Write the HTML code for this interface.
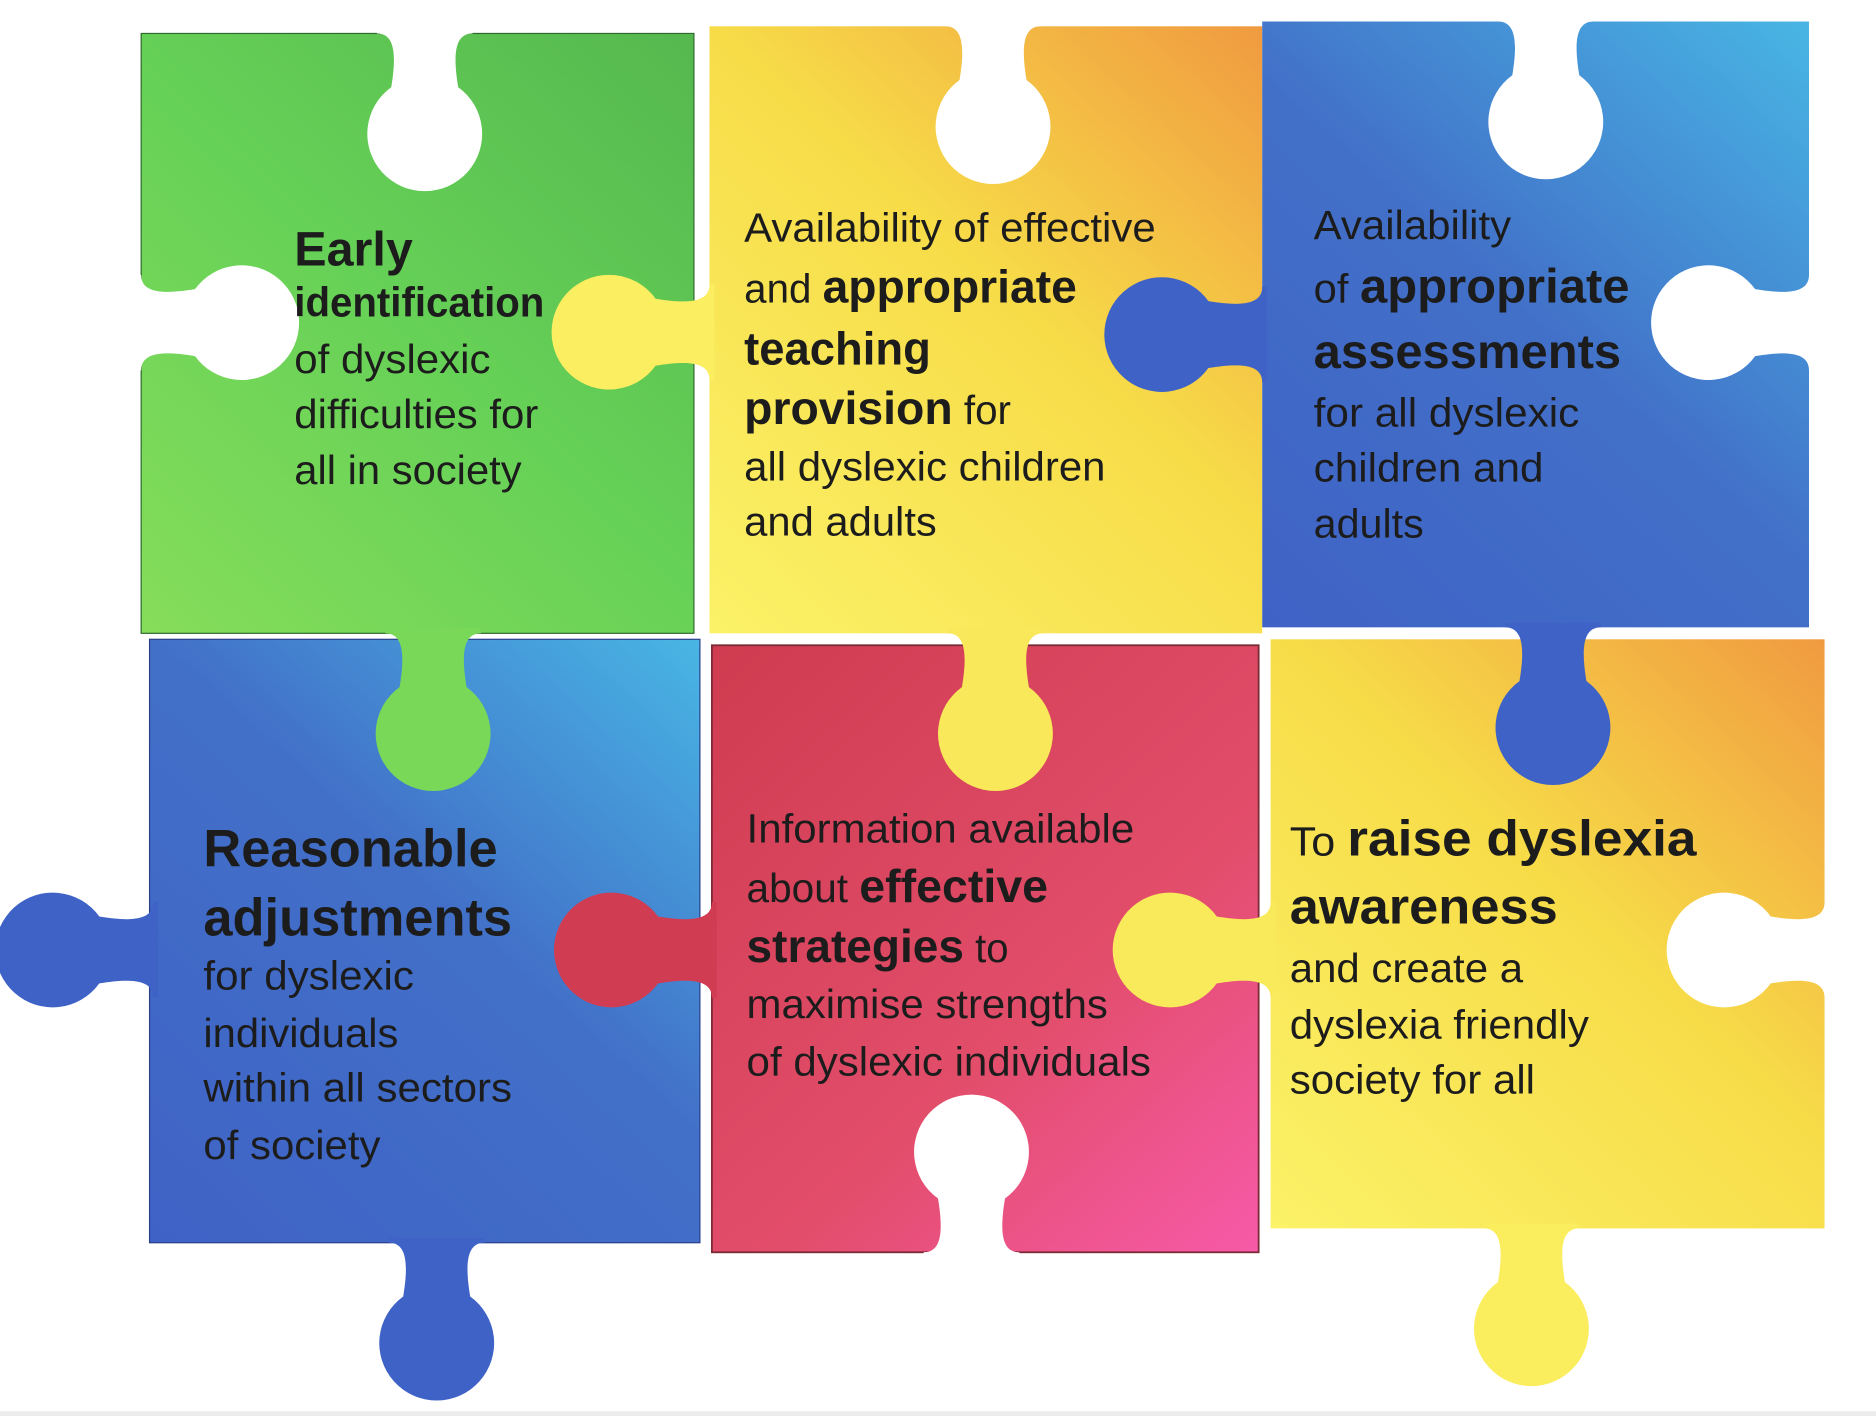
<!DOCTYPE html>
<html><head><meta charset="utf-8">
<style>
html,body{margin:0;padding:0;background:#fff;}
svg{display:block;}
text{font-family:"Liberation Sans",Arial,sans-serif;fill:#1c1c1c;}
.b{font-weight:bold;}
</style></head>
<body>
<svg width="1876" height="1416" viewBox="0 0 1568 1185" preserveAspectRatio="none" xmlns="http://www.w3.org/2000/svg" xmlns:xlink="http://www.w3.org/1999/xlink">
<defs>
<linearGradient id="gG" gradientUnits="userSpaceOnUse" x1="118" y1="530" x2="580" y2="28">
<stop offset="0" stop-color="#86dd5a"/><stop offset="0.5" stop-color="#66d157"/><stop offset="1" stop-color="#55b84f"/></linearGradient>
<linearGradient id="gY1" gradientUnits="userSpaceOnUse" x1="593" y1="530" x2="1055" y2="22">
<stop offset="0" stop-color="#fbf268"/><stop offset="0.55" stop-color="#f7dc48"/><stop offset="1" stop-color="#f09a40"/></linearGradient>
<linearGradient id="gB1" gradientUnits="userSpaceOnUse" x1="1055" y1="525" x2="1512" y2="18">
<stop offset="0" stop-color="#3f62c6"/><stop offset="0.5" stop-color="#4270c8"/><stop offset="1" stop-color="#48b6e4"/></linearGradient>
<linearGradient id="gB2" gradientUnits="userSpaceOnUse" x1="125" y1="1040" x2="585" y2="535">
<stop offset="0" stop-color="#3f62c6"/><stop offset="0.55" stop-color="#4270c8"/><stop offset="1" stop-color="#48b6e4"/></linearGradient>
<linearGradient id="gR" gradientUnits="userSpaceOnUse" x1="595" y1="540" x2="1052" y2="1048">
<stop offset="0" stop-color="#cf3c50"/><stop offset="0.6" stop-color="#e24d6a"/><stop offset="1" stop-color="#f75aa8"/></linearGradient>
<linearGradient id="gY2" gradientUnits="userSpaceOnUse" x1="1062" y1="1028" x2="1525" y2="535">
<stop offset="0" stop-color="#fbf268"/><stop offset="0.55" stop-color="#f7dc48"/><stop offset="1" stop-color="#f09a40"/></linearGradient>
<path id="k" d="M-40,-4 L-40,0 C-26,0 -23,15 -28,45 A48 48 0 1 0 28,45 C23,15 26,0 40,0 L40,-4 Z"/>
<path id="h" d="M-40,-30 L-40,0 C-26,0 -23,15 -28,45 A48 48 0 1 0 28,45 C23,15 26,0 40,0 L40,-30 Z"/>
</defs>

<rect x="118" y="28" width="462" height="502" fill="url(#gG)" stroke="#2d6a2d" stroke-width="1"/>
<rect x="593" y="22" width="462" height="508" fill="url(#gY1)"/>
<rect x="1055" y="18" width="457" height="507" fill="url(#gB1)"/>
<rect x="125" y="535" width="460" height="505" fill="url(#gB2)" stroke="#2a3f8a" stroke-width="1"/>
<rect x="595" y="540" width="457" height="508" fill="url(#gR)" stroke="#7a2a35" stroke-width="1.5"/>
<rect x="1062" y="535" width="463" height="493" fill="url(#gY2)"/>

<use xlink:href="#k" transform="translate(362,530)" fill="#7ad858"/>
<use xlink:href="#k" transform="translate(832,530)" fill="#f9e85a"/>
<use xlink:href="#k" transform="translate(593,278) rotate(90)" fill="#fbee60"/>
<use xlink:href="#k" transform="translate(1055,280) rotate(90)" fill="#3f62c6"/>
<use xlink:href="#k" transform="translate(1298,525)" fill="#3f62c6"/>
<use xlink:href="#k" transform="translate(128,795) rotate(90)" fill="#3f62c6"/>
<use xlink:href="#k" transform="translate(365,1040)" fill="#3f62c6"/>
<use xlink:href="#k" transform="translate(595,795) rotate(90)" fill="#d03c52"/>
<use xlink:href="#k" transform="translate(1062,795) rotate(90)" fill="#f9ea5c"/>
<use xlink:href="#k" transform="translate(1280,1028)" fill="#faed5e"/>

<g fill="#fff">
<use xlink:href="#h" transform="translate(355,28)"/>
<use xlink:href="#h" transform="translate(830,22)"/>
<use xlink:href="#h" transform="translate(1292,18)"/>
<use xlink:href="#h" transform="translate(118,270) rotate(-90)"/>
<use xlink:href="#h" transform="translate(1512,270) rotate(90)"/>
<use xlink:href="#h" transform="translate(1525,795) rotate(90)"/>
<use xlink:href="#h" transform="translate(812,1048) rotate(180)"/>
</g>
<rect x="0" y="1181" width="1568" height="4" fill="#ececec"/>

<text x="246" y="222" class="b" font-size="40" textLength="99" lengthAdjust="spacingAndGlyphs">Early</text>
<text x="246" y="265" class="b" font-size="35" textLength="209" lengthAdjust="spacingAndGlyphs">identification</text>
<text x="246" y="312" font-size="34" textLength="164" lengthAdjust="spacingAndGlyphs">of dyslexic</text>
<text x="246" y="358" font-size="34" textLength="204" lengthAdjust="spacingAndGlyphs">difficulties for</text>
<text x="246" y="405" font-size="34" textLength="190" lengthAdjust="spacingAndGlyphs">all in society</text>

<text x="622" y="202" font-size="34" textLength="344" lengthAdjust="spacingAndGlyphs">Availability of effective</text>
<text x="622" y="253" font-size="34" textLength="278" lengthAdjust="spacingAndGlyphs">and <tspan class="b" font-size="39">appropriate</tspan></text>
<text x="622" y="305" class="b" font-size="39" textLength="156" lengthAdjust="spacingAndGlyphs">teaching</text>
<text x="622" y="355" font-size="34" textLength="223" lengthAdjust="spacingAndGlyphs"><tspan class="b" font-size="39">provision</tspan> for</text>
<text x="622" y="402" font-size="34" textLength="302" lengthAdjust="spacingAndGlyphs">all dyslexic children</text>
<text x="622" y="448" font-size="34" textLength="161" lengthAdjust="spacingAndGlyphs">and adults</text>

<text x="1098" y="200" font-size="34" textLength="165" lengthAdjust="spacingAndGlyphs">Availability</text>
<text x="1098" y="253" font-size="34" textLength="264" lengthAdjust="spacingAndGlyphs">of <tspan class="b" font-size="40">appropriate</tspan></text>
<text x="1098" y="308" class="b" font-size="40" textLength="257" lengthAdjust="spacingAndGlyphs">assessments</text>
<text x="1098" y="357" font-size="34" textLength="222" lengthAdjust="spacingAndGlyphs">for all dyslexic</text>
<text x="1098" y="403" font-size="34" textLength="192" lengthAdjust="spacingAndGlyphs">children and</text>
<text x="1098" y="450" font-size="34" textLength="92" lengthAdjust="spacingAndGlyphs">adults</text>

<text x="170" y="725" class="b" font-size="44" textLength="246" lengthAdjust="spacingAndGlyphs">Reasonable</text>
<text x="170" y="783" class="b" font-size="44" textLength="258" lengthAdjust="spacingAndGlyphs">adjustments</text>
<text x="170" y="828" font-size="34" textLength="176" lengthAdjust="spacingAndGlyphs">for dyslexic</text>
<text x="170" y="876" font-size="34" textLength="163" lengthAdjust="spacingAndGlyphs">individuals</text>
<text x="170" y="922" font-size="34" textLength="258" lengthAdjust="spacingAndGlyphs">within all sectors</text>
<text x="170" y="970" font-size="34" textLength="148" lengthAdjust="spacingAndGlyphs">of society</text>

<text x="624" y="705" font-size="34" textLength="324" lengthAdjust="spacingAndGlyphs">Information available</text>
<text x="624" y="755" font-size="34" textLength="252" lengthAdjust="spacingAndGlyphs">about <tspan class="b" font-size="39">effective</tspan></text>
<text x="624" y="805" font-size="34" textLength="219" lengthAdjust="spacingAndGlyphs"><tspan class="b" font-size="39">strategies</tspan> to</text>
<text x="624" y="852" font-size="34" textLength="302" lengthAdjust="spacingAndGlyphs">maximise strengths</text>
<text x="624" y="900" font-size="34" textLength="338" lengthAdjust="spacingAndGlyphs">of dyslexic individuals</text>

<text x="1078" y="716" font-size="34" textLength="340" lengthAdjust="spacingAndGlyphs">To <tspan class="b" font-size="42">raise dyslexia</tspan></text>
<text x="1078" y="773" class="b" font-size="42" textLength="224" lengthAdjust="spacingAndGlyphs">awareness</text>
<text x="1078" y="822" font-size="34" textLength="195" lengthAdjust="spacingAndGlyphs">and create a</text>
<text x="1078" y="869" font-size="34" textLength="250" lengthAdjust="spacingAndGlyphs">dyslexia friendly</text>
<text x="1078" y="915" font-size="34" textLength="205" lengthAdjust="spacingAndGlyphs">society for all</text>
</svg>
</body></html>
